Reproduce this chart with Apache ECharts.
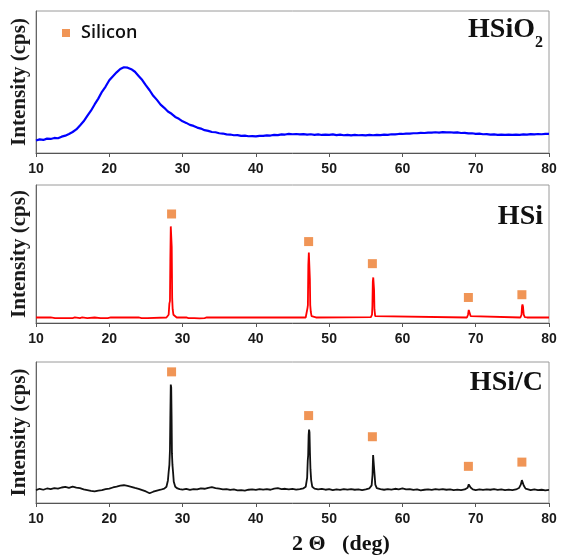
<!DOCTYPE html>
<html>
<head>
<meta charset="utf-8">
<script src="https://cdn.jsdelivr.net/npm/echarts@6/dist/echarts.min.js"></script>
<style>
  html, body { margin: 0; padding: 0; background: #fff; }
  #chart { width: 565px; height: 558px; }
</style>
</head>
<body>
<div id="chart"></div>
<script>
// x range / ticks in degrees 2-theta
const xTickValues = [10, 20, 30, 40, 50, 60, 70, 80];

// HSiO2 – amorphous silica hump (relative intensity, 0-100 panel scale)
const hsio2 = [
  [10, 8.8], [10.5, 9.6], [11, 9.2], [11.5, 10.1], [12, 9.9], [12.5, 10.6], [13, 10.4], [13.5, 11.5],
  [14, 12.2], [14.5, 13.4], [15, 14.8], [15.5, 16.6], [16, 19.4], [16.5, 22.3], [17, 26.1], [17.5, 29.8],
  [18, 34.2], [18.5, 38.3], [19, 43.1], [19.5, 46.8], [20, 51.2], [20.5, 54.1], [21, 56.8], [21.5, 59.2],
  [22, 60.4], [22.5, 60.1], [23, 59.0], [23.5, 57.2], [24, 54.3], [24.5, 51.4], [25, 47.6], [25.5, 44.2],
  [26, 40.3], [26.5, 37.4], [27, 34.1], [27.5, 31.8], [28, 29.2], [28.5, 27.6], [29, 25.4], [29.5, 24.1],
  [30, 22.3], [30.5, 21.2], [31, 19.8], [31.5, 19.1], [32, 17.9], [32.5, 17.2], [33, 16.1], [33.5, 15.6],
  [34, 14.8], [34.5, 14.6], [35, 13.9], [35.5, 13.7], [36, 13.1], [36.5, 13.0], [37, 12.5], [37.5, 12.6],
  [38, 12.1], [38.5, 12.2], [39, 11.8], [39.5, 11.9], [40, 11.7], [40.5, 12.1], [41, 12.0], [41.5, 12.4],
  [42, 12.3], [42.5, 12.8], [43, 12.6], [43.5, 13.1], [44, 13.0], [44.5, 13.5], [45, 13.2], [45.5, 13.4],
  [46, 13.1], [46.5, 13.3], [47, 12.9], [47.5, 13.2], [48, 12.8], [48.5, 13.1], [49, 12.7], [49.5, 13.0],
  [50, 12.8], [50.5, 13.1], [51, 12.6], [51.5, 12.9], [52, 12.5], [52.5, 12.8], [53, 12.4], [53.5, 12.7],
  [54, 12.5], [54.5, 12.6], [55, 12.4], [55.5, 12.7], [56, 12.5], [56.5, 12.8], [57, 12.6], [57.5, 12.9],
  [58, 12.8], [58.5, 13.2], [59, 13.1], [59.5, 13.4], [60, 13.4], [60.5, 13.7], [61, 13.6], [61.5, 13.9],
  [62, 13.9], [62.5, 14.2], [63, 14.1], [63.5, 14.4], [64, 14.3], [64.5, 14.6], [65, 14.4], [65.5, 14.7],
  [66, 14.5], [66.5, 14.6], [67, 14.3], [67.5, 14.5], [68, 14.1], [68.5, 14.2], [69, 13.8], [69.5, 13.9],
  [70, 13.5], [70.5, 13.6], [71, 13.2], [71.5, 13.3], [72, 12.9], [72.5, 13.1], [73, 12.8], [73.5, 13.0],
  [74, 12.7], [74.5, 12.9], [75, 12.7], [75.5, 13.0], [76, 12.8], [76.5, 13.1], [77, 12.9], [77.5, 13.3],
  [78, 13.1], [78.5, 13.4], [79, 13.2], [79.5, 13.5], [80, 13.4]
];

// HSi – crystalline silicon
const hsi = [
  [10, 4], [11, 4], [11.2, 3.4], [11.4, 4], [12, 4], [12.6, 3.6], [12.8, 4], [13.4, 3.5], [13.6, 4],
  [14.2, 3.5], [14.4, 4], [15, 3.6], [15.3, 4], [16, 3.6], [16.3, 4], [17, 3.6], [17.2, 4], [18, 4],
  [18.8, 3.6], [19, 4], [19.8, 3.5], [20.2, 4], [21, 4], [24, 4], [24.4, 3.6], [24.6, 4], [25.2, 3.6],
  [25.4, 4], [27.8, 4], [28.0, 4.5], [28.1, 6], [28.2, 14], [28.28, 16], [28.33, 45], [28.39, 70],
  [28.45, 69], [28.52, 55], [28.58, 18], [28.65, 10], [28.75, 6], [28.9, 4.6], [29.2, 4], [30.5, 4],
  [30.8, 3.5], [31, 4], [31.6, 3.5], [31.8, 4], [32.3, 3.4], [33, 3.6], [33.3, 4], [39, 4], [39.1, 3.5],
  [39.2, 4], [46.8, 4], [47.0, 5], [47.05, 11], [47.1, 13], [47.16, 42], [47.23, 51], [47.3, 50],
  [47.37, 32], [47.42, 13], [47.5, 8], [47.6, 5], [47.8, 4.2], [48.2, 4], [55.7, 4.2], [55.85, 6],
  [55.9, 12], [55.96, 30], [56.02, 33], [56.08, 32], [56.13, 24], [56.18, 10], [56.28, 5], [56.5, 4],
  [68.8, 4], [68.95, 6], [69.05, 9.5], [69.15, 9], [69.3, 5], [69.5, 4], [76.1, 4], [76.25, 6],
  [76.32, 12], [76.38, 13.5], [76.45, 12], [76.55, 6], [76.7, 4.3], [77, 4], [80, 4]
];

// HSi/C – silicon / carbon composite
const hsic = [
  [10, 9.2], [10.5, 10.1], [11, 9.4], [11.5, 10.3], [12, 9.8], [12.5, 10.6], [13, 10.2], [13.5, 11.0],
  [14, 11.4], [14.5, 10.8], [15, 11.6], [15.5, 10.9], [16, 10.5], [16.5, 9.6], [17, 9.2], [17.5, 8.6],
  [18, 8.3], [18.5, 8.8], [19, 9.1], [19.5, 9.8], [20, 10.2], [20.5, 11.0], [21, 11.6], [21.5, 12.3],
  [22, 12.6], [22.5, 12.1], [23, 11.5], [23.5, 10.7], [24, 10.0], [24.5, 9.1], [25, 8.2], [25.5, 6.9],
  [26, 8.0], [26.5, 8.8], [27, 9.4], [27.5, 10.2], [27.8, 11.5], [28.0, 16], [28.1, 22], [28.2, 27],
  [28.28, 38], [28.33, 60], [28.39, 84], [28.45, 82], [28.5, 62], [28.55, 35], [28.62, 27], [28.7, 22],
  [28.8, 15], [29.0, 11.5], [29.3, 10.3], [29.6, 9.8], [30, 9.5], [30.5, 10.0], [31, 9.3], [31.5, 9.9],
  [32, 9.6], [32.5, 10.4], [33, 10.1], [33.5, 10.8], [34, 11.2], [34.5, 10.6], [35, 10.2], [35.5, 9.7],
  [36, 9.9], [36.5, 9.3], [37, 9.6], [37.5, 9.0], [38, 9.2], [38.5, 8.8], [39, 9.4], [39.5, 9.7],
  [40, 9.3], [40.5, 9.9], [41, 9.5], [41.5, 9.8], [42, 9.4], [42.5, 10.2], [43, 10.5], [43.5, 9.9],
  [44, 10.1], [44.5, 9.6], [45, 10.0], [45.5, 9.5], [46, 9.9], [46.5, 10.4], [46.8, 11.5], [47.0, 18],
  [47.08, 30], [47.14, 34], [47.2, 48], [47.26, 52], [47.32, 50], [47.38, 36], [47.45, 24], [47.55, 16],
  [47.7, 11.5], [48.0, 10.2], [48.5, 9.6], [49, 10.0], [49.5, 9.4], [50, 9.8], [50.5, 9.2], [51, 9.7],
  [51.5, 9.3], [52, 9.9], [52.5, 9.5], [53, 9.8], [53.5, 9.4], [54, 9.6], [54.5, 9.2], [55, 9.7],
  [55.5, 10.4], [55.8, 12.5], [55.92, 20], [56.0, 34], [56.06, 35], [56.12, 33], [56.2, 20], [56.3, 13],
  [56.5, 10.6], [57, 9.8], [57.5, 9.4], [58, 9.9], [58.5, 9.5], [59, 10.1], [59.5, 9.7], [60, 10.3],
  [60.5, 9.6], [61, 9.9], [61.5, 9.3], [62, 9.6], [62.5, 9.0], [63, 9.4], [63.5, 9.7], [64, 9.3],
  [64.5, 9.8], [65, 9.5], [65.5, 9.9], [66, 9.4], [66.5, 9.7], [67, 9.2], [67.5, 9.5], [68, 9.1],
  [68.5, 9.6], [68.9, 10.8], [69.05, 13.2], [69.15, 13.6], [69.3, 11.0], [69.6, 9.7], [70, 9.2],
  [70.5, 9.6], [71, 9.3], [71.5, 9.7], [72, 9.4], [72.5, 9.8], [73, 9.3], [73.5, 9.6], [74, 9.2],
  [74.5, 9.5], [75, 9.1], [75.5, 9.6], [75.9, 10.6], [76.15, 13.0], [76.3, 16.2], [76.4, 16.0],
  [76.55, 12.4], [76.8, 10.2], [77, 9.5], [77.5, 9.2], [78, 9.6], [78.5, 9.1], [79, 9.4], [79.5, 9.0],
  [80, 9.3]
];

// silicon reflection markers (square symbols above the peaks)
const hsiMarks = [[28.5, 79], [47.2, 59], [55.9, 43], [69.0, 18.5], [76.3, 20.5]];
const hsicMarks = [[28.5, 93], [47.2, 62], [55.9, 47], [69.0, 26], [76.3, 29]];

const sampleNames = ["HSiO", "HSi", "HSi/C"];
const lineColors = ["#0000ff", "#ff0000", "#111111"];

const panels = [
  { top: 11, height: 142, title: 31 },
  { top: 185, height: 138, title: 218 },
  { top: 362, height: 141, title: 384 },
];

const chart = echarts.init(document.getElementById("chart"), null, { renderer: "canvas" });

const serif = "'Liberation Serif', 'Times New Roman', serif";

const option = {
  animation: false,
  backgroundColor: "#fff",
  grid: panels.map((p) => ({
    left: 36, right: 16, top: p.top, height: p.height,
    show: true, borderColor: "#9a9a9a", borderWidth: 1, containLabel: false,
  })),
  xAxis: panels.map((p, i) => ({
    gridIndex: i, type: "value",
    min: xTickValues[0], max: xTickValues[xTickValues.length - 1], interval: 10,
    axisLine: { show: true, onZero: false, lineStyle: { color: "#555", width: 1 } },
    axisTick: { show: true, length: 4, lineStyle: { color: "#555" } },
    axisLabel: {
      color: "#1a1a1a", fontFamily: "'Liberation Sans Narrow', 'Liberation Sans', Arial",
      fontWeight: "bold", fontSize: 14, margin: 9,
    },
    splitLine: { show: false },
  })),
  yAxis: panels.map((p, i) => ({
    gridIndex: i, type: "value", min: 0, max: 100,
    axisLine: { show: true, lineStyle: { color: "#666", width: 1 } },
    axisTick: { show: false }, axisLabel: { show: false }, splitLine: { show: false },
    name: "Intensity (cps)", nameLocation: "middle", nameGap: 6, nameRotate: 90,
    nameTextStyle: { fontFamily: serif, fontWeight: "bold", fontSize: 21, color: "#1a1a1a" },
  })),
  legend: {
    data: ["Silicon"], left: 57, top: 19, icon: "rect", itemWidth: 8, itemHeight: 8,
    selectedMode: false,
    textStyle: { fontFamily: "'Open Sans', Lato, sans-serif", fontSize: 18, fontWeight: 600, color: "#111", padding: [0, 0, 0, 6] },
  },
  series: [
    ...[hsio2, hsi, hsic].map((d, i) => ({
      type: "line", xAxisIndex: i, yAxisIndex: i, data: d, showSymbol: false,
      lineStyle: { color: lineColors[i], width: i === 0 ? 2.2 : 1.8 }, silent: true,
    })),
    { name: "Silicon", type: "scatter", xAxisIndex: 1, yAxisIndex: 1, data: hsiMarks,
      symbol: "rect", symbolSize: 9, itemStyle: { color: "#ec7a2c" } },
    { name: "Silicon", type: "scatter", xAxisIndex: 2, yAxisIndex: 2, data: hsicMarks,
      symbol: "rect", symbolSize: 9, itemStyle: { color: "#ec7a2c" } },
  ],
  graphic: [
    ...panels.map((p, i) => ({
      type: "text", right: i === 0 ? 30 : 22, top: p.title - 15,
      style: { text: sampleNames[i], font: "bold 28px " + serif, fill: "#111" },
    })),
    { type: "text", left: 535, top: 35,
      style: { text: "2", font: "bold 16px " + serif, fill: "#111" } },
    { type: "text", left: 292, top: 533,
      style: { text: "2 \u0398   (deg)", font: "bold 22px " + serif, fill: "#111", textAlign: "center" } },
  ],
};

chart.setOption(option);
</script>
</body>
</html>
